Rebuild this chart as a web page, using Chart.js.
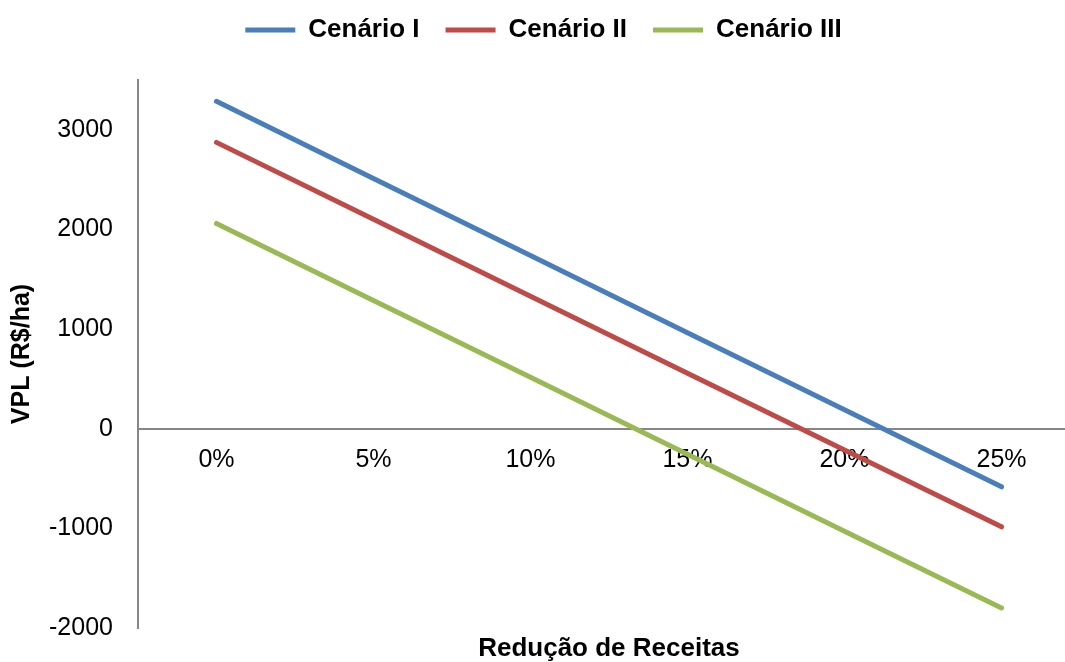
<!DOCTYPE html>
<html>
<head>
<meta charset="utf-8">
<script src="https://cdn.jsdelivr.net/npm/chart.js@4"></script>
<style>
    html, body { margin: 0; padding: 0; background: #fff; overflow: hidden; }
    .wrap { width: 1084px; height: 662px; position: relative; }
</style>
</head>
<body>
<div class="wrap"><canvas id="vplChart"></canvas></div>
<script>
// Data
const categories = ['0%', '5%', '10%', '15%', '20%', '25%'];
const cenarioI = [3286, 2512, 1738, 964, 190, -583];
const cenarioII = [2874, 2102, 1330, 558, -214, -985];
const cenarioIII = [2060, 1288, 516, -256, -1028, -1799];
const yTicks = [-2000, -1000, 0, 1000, 2000, 3000];

const fontFamily = '"Liberation Sans", Arial, sans-serif';
const axisColor = '#868686';

function lineSet(label, data, color) {
    return {
        label: label,
        data: data,
        borderColor: color,
        backgroundColor: color,
        borderWidth: 5,
        borderCapStyle: 'round',
        pointRadius: 0,
        tension: 0,
        xAxisID: 'x'
    };
}

// push the plot down below the legend without changing the legend's own spacing
const legendGap = {
    id: 'legendGap',
    beforeInit(chart) {
        const origFit = chart.legend.fit;
        chart.legend.fit = function fit() {
            origFit.bind(chart.legend)();
            this.height += 27;
        };
    }
};

document.addEventListener('DOMContentLoaded', () => {
    const ctx = document.getElementById('vplChart');

    new Chart(ctx, {
        type: 'line',
        data: {
            labels: categories,
            datasets: [
                lineSet('Cenário I', cenarioI, '#4A7EBB'),
                lineSet('Cenário II', cenarioII, '#BE4B48'),
                lineSet('Cenário III', cenarioIII, '#98B954')
            ]
        },
        plugins: [legendGap],
        options: {
            responsive: true,
            maintainAspectRatio: false,
            animation: false,
            layout: { padding: { top: -9, left: 7, right: 4, bottom: 0 } },
            plugins: {
                legend: {
                    position: 'top',
                    labels: {
                        usePointStyle: true,
                        pointStyle: 'line',
                        pointStyleWidth: 50,
                        color: '#000',
                        padding: 26,
                        font: { family: fontFamily, size: 26, weight: 'bold' }
                    }
                },
                tooltip: { enabled: false }
            },
            scales: {
                x: {
                    type: 'category',
                    offset: true,
                    position: { y: 0 },
                    grid: { display: false, drawTicks: false },
                    border: { display: true, color: axisColor, width: 2 },
                    ticks: {
                        color: '#000',
                        padding: 16,
                        maxRotation: 0,
                        font: { family: fontFamily, size: 25 }
                    }
                },
                x2: {
                    type: 'category',
                    labels: categories,
                    position: 'bottom',
                    offset: true,
                    grid: { display: false, drawTicks: false },
                    border: { display: false },
                    ticks: { display: false },
                    title: {
                        display: true,
                        text: 'Redução de Receitas',
                        color: '#000',
                        padding: { top: 8, bottom: 0 },
                        font: { family: fontFamily, size: 26, weight: 'bold', lineHeight: 1 }
                    }
                },
                y: {
                    min: -2000,
                    max: 3500,
                    grid: { display: false, drawTicks: false },
                    border: { display: true, color: axisColor, width: 2 },
                    afterBuildTicks: (scale) => {
                        scale.ticks = yTicks.map(v => ({ value: v }));
                    },
                    // tick padding is only wanted sideways, not above/below the plot
                    afterFit: (scale) => {
                        scale.paddingTop = 0;
                        scale.paddingBottom = 0;
                    },
                    ticks: {
                        color: '#000',
                        padding: 25,
                        font: { family: fontFamily, size: 25 },
                        callback: (value) => String(value)
                    },
                    title: {
                        display: true,
                        text: 'VPL (R$/ha)',
                        color: '#000',
                        padding: { top: 0, bottom: -13 },
                        font: { family: fontFamily, size: 25, weight: 'bold' }
                    }
                }
            }
        }
    });
});
</script>
</body>
</html>
